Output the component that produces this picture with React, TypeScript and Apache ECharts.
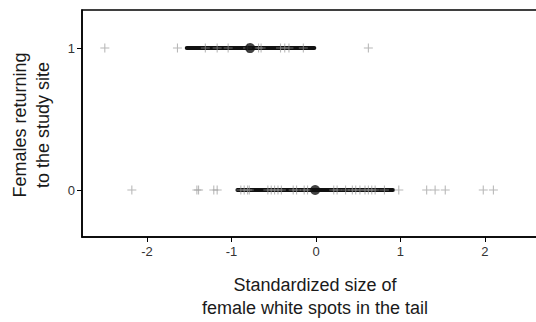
import React, { useEffect, useRef } from "react";
import * as echarts from "echarts";

// Standardized size of female white spots (one cross per female)
const returnedValues = [-2.5, -1.64, -1.31, -1.17, -1.04, -0.81, -0.68, -0.65, -0.42, -0.37, -0.32, -0.15, 0.62];
const notReturnedValues = [
  -2.18, -1.41, -1.39, -1.21, -1.17, -0.89, -0.85, -0.81, -0.79, -0.57, -0.53, -0.49, -0.45, -0.41,
  -0.27, -0.23, -0.14, -0.1, 0.21, 0.25, 0.35, 0.43, 0.47, 0.52, 0.58, 0.62, 0.66, 0.7, 0.81, 0.98,
  1.31, 1.41, 1.53, 1.98, 2.1,
];
// group summaries: [group, mean, low, high]
const groups = [1, 0];
const means = [-0.78, -0.01];
const lows = [-1.53, -0.93];
const highs = [-0.02, 0.91];

const xTicks = [-2, -1, 0, 1, 2];
const yTicks = [0, 1];

const PLUS = "path://M4.4,0h1.2v10h-1.2zM0,4.4h10v1.2h-10z";

export default function App() {
  const ref = useRef<HTMLDivElement>(null);
  useEffect(() => {
    const chart = echarts.init(ref.current!, null, { renderer: "svg" });
    const font = "Liberation Sans, Arial, sans-serif";
    const crossData = [
      ...returnedValues.map((v) => [v, 1]),
      ...notReturnedValues.map((v) => [v, 0]),
    ];
    const intervalSeries = groups.map((g, i) => ({
      type: "line",
      data: [
        [lows[i], g],
        [highs[i], g],
      ],
      symbol: "none",
      lineStyle: { color: "#111", width: 4, cap: "round" },
      z: 1,
      silent: true,
    }));
    chart.setOption({
      animation: false,
      grid: {
        left: 82,
        top: 10,
        width: 468,
        height: 227,
        outerBoundsMode: "none",
        containLabel: false,
        show: true,
        borderColor: "#000",
        borderWidth: 1.5,
        backgroundColor: "transparent",
      },
      xAxis: {
        type: "value",
        min: -2.77,
        max: 2.77,
        splitLine: { show: false },
        axisLine: { show: true, onZero: false, lineStyle: { color: "#000", width: 1.5 } },
        axisTick: { show: true, length: 5, lineStyle: { color: "#000", width: 1 }, customValues: xTicks },
        axisLabel: { customValues: xTicks, color: "#333", fontSize: 13, fontFamily: font, margin: 8 },
      },
      yAxis: {
        type: "value",
        min: -0.331,
        max: 1.268,
        splitLine: { show: false },
        axisLine: { show: true, onZero: false, lineStyle: { color: "#000", width: 1.5 } },
        axisTick: { show: true, length: 5, lineStyle: { color: "#000", width: 1 }, customValues: yTicks },
        axisLabel: { customValues: yTicks, color: "#333", fontSize: 13, fontFamily: font, margin: 7 },
      },
      series: [
        ...intervalSeries,
        {
          type: "scatter",
          data: crossData,
          symbol: PLUS,
          symbolSize: 9,
          itemStyle: { color: "rgba(150,150,150,0.85)" },
          z: 2,
          silent: true,
        },
        {
          type: "scatter",
          data: groups.map((g, i) => [means[i], g]),
          symbol: "circle",
          symbolSize: 10,
          itemStyle: { color: "#111" },
          z: 3,
          silent: true,
        },
      ],
      graphic: [
        {
          type: "text",
          x: 31,
          y: 125,
          rotation: Math.PI / 2,
          style: {
            text: "Females returning\nto the study site",
            font: `18px ${font}`,
            fill: "#1a1a1a",
            align: "center",
            verticalAlign: "middle",
            lineHeight: 23,
          },
        },
        {
          type: "text",
          x: 315,
          y: 273,
          style: {
            text: "Standardized size of\nfemale white spots in the tail",
            font: `18px ${font}`,
            fill: "#1a1a1a",
            align: "center",
            verticalAlign: "top",
            lineHeight: 23,
          },
        },
      ],
    });
    return () => chart.dispose();
  }, []);
  return <div ref={ref} style={{ position: "absolute", left: 0, top: 0, width: 536, height: 322 }} />;
}
